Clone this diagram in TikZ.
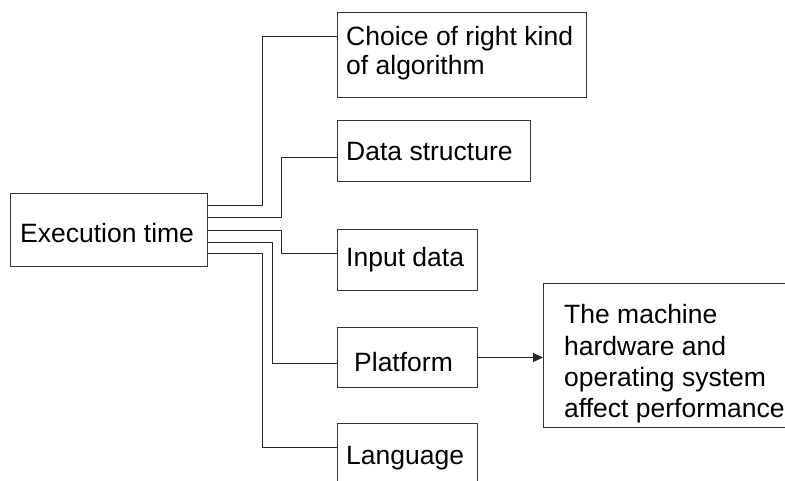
\documentclass[tikz,border=0pt]{standalone}
\usepackage{fontspec}
\setmainfont{Liberation Sans}
\usetikzlibrary{arrows.meta}
\begin{document}
\begin{tikzpicture}[x=1pt,y=-1pt,
  boxnode/.style={draw=black!80,line width=1pt,rectangle,inner sep=0pt,anchor=north west},
  lbl/.style={anchor=base west,inner sep=0pt,font=\fontsize{26.5}{31}\selectfont,align=left},
  conn/.style={draw=black!85,line width=1pt}]
\useasboundingbox (0,0) rectangle (785,480);
\clip (0,0) rectangle (785,480);
\fill[white] (0,0) rectangle (785,480);
% boxes
\node[boxnode,minimum width=197pt,minimum height=73pt] (exec) at (10,193) {};
\node[boxnode,minimum width=249pt,minimum height=85pt] (choice) at (337,12) {};
\node[boxnode,minimum width=193pt,minimum height=61pt] (data) at (337,120) {};
\node[boxnode,minimum width=140pt,minimum height=61pt] (input) at (337,229) {};
\node[boxnode,minimum width=140pt,minimum height=60pt] (platform) at (337,327) {};
\node[boxnode,minimum width=140pt,minimum height=80pt] (language) at (337,423) {};
\node[boxnode,minimum width=260pt,minimum height=144pt] (machine) at (543,283) {};
% texts
\node[lbl] (texec) at (20,242) {Execution time};
\node[lbl] (tchoice1) at (346,45) {Choice of right kind};
\node[lbl] (tchoice2) at (346,74) {of algorithm};
\node[lbl] (tdata) at (346,160) {Data structure};
\node[lbl] (tinput) at (346,266) {Input data};
\node[lbl] (tplatform) at (354,371) {Platform};
\node[lbl] (tlanguage) at (346,464) {Language};
\node[lbl] (tm1) at (564,323) {The machine};
\node[lbl] (tm2) at (564,355) {hardware and};
\node[lbl] (tm3) at (564,386) {operating system};
\node[lbl] (tm4) at (564,417) {affect performance};
% connectors
\coordinate (b1) at (262,36);
\coordinate (b2) at (281,157);
\coordinate (b3) at (281,253);
\coordinate (b4) at (272,363);
\coordinate (b5) at (262,447);
\draw[conn] (exec.east |- 0,205) -| (b1) -- (choice.west |- b1);
\draw[conn] (exec.east |- 0,217) -| (b2) -- (data.west |- b2);
\draw[conn] (exec.east |- 0,230) -| (b3) -- (input.west |- b3);
\draw[conn] (exec.east |- 0,242) -| (b4) -- (platform.west |- b4);
\draw[conn] (exec.east |- 0,253) -| (b5) -- (language.west |- b5);
\draw[conn,-{Triangle[length=10pt,width=9pt]}] (platform.east) -- (machine.west |- platform.east);
\end{tikzpicture}
\end{document}
